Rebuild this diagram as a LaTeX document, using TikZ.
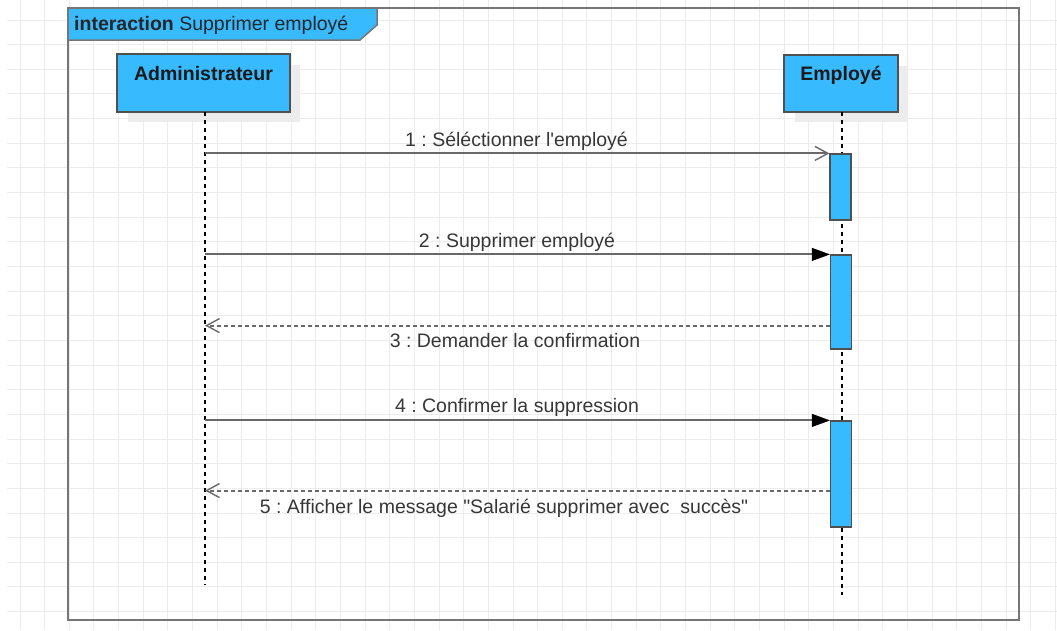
\documentclass[tikz,border=0pt]{standalone}
\usepackage{fontspec}
\setmainfont{Liberation Sans}[Ligatures=TeXOff]
\frenchspacing
\usetikzlibrary{arrows.meta,calc}
\definecolor{umlblue}{RGB}{56,186,255}
\definecolor{gridgray}{RGB}{236,236,236}
\definecolor{framegray}{RGB}{118,118,118}
\definecolor{msggray}{RGB}{105,105,105}
\definecolor{boxborder}{RGB}{80,80,80}
\definecolor{shadowgray}{RGB}{236,236,236}
\definecolor{labelgray}{RGB}{55,55,55}
\tikzset{
  gridline/.style={draw=gridgray, line width=1pt},
  framebox/.style={draw=framegray, line width=2pt},
  actorbox/.style={rectangle, draw=boxborder, fill=umlblue, line width=1.2pt, inner sep=0pt},
  actorshadow/.style={fill=shadowgray, draw=none},
  activation/.style={rectangle, draw=boxborder, fill=umlblue, line width=1.2pt, inner sep=0pt, minimum width=21pt},
  lifeline/.style={draw=black, line width=1.5pt, dash pattern=on 4pt off 4pt},
  callmsg/.style={draw=msggray, line width=2pt, -{Triangle[length=18pt,width=13pt,color=black,line width=0.5pt]}},
  openmsg/.style={draw=msggray, line width=2pt, -{Straight Barb[length=13pt,width=14pt,line width=1.4pt]}},
  replymsg/.style={draw=msggray, line width=2pt, dash pattern=on 4pt off 3pt, -{Straight Barb[length=13pt,width=14pt,line width=1.4pt,sep=0pt]}},
  msglabel/.style={anchor=base, inner sep=0pt, text=labelgray, font=\fontsize{19.5}{23}\selectfont},
  actorname/.style={anchor=base, inner sep=0pt, text=black!90, font=\fontsize{19.5}{23}\selectfont\bfseries},
}
\begin{document}
\begin{tikzpicture}[x=1pt, y=-1pt]
  \useasboundingbox (0,0) rectangle (1057,630);
  \fill[white] (0,0) rectangle (1057,630);

  % background grid
  \foreach \i in {0,...,42} {
    \draw[gridline] ({20+24.65*\i},0) -- ({20+24.65*\i},630);
  }
  \foreach \j in {0,...,24} {
    \draw[gridline] (7,{20+24.65*\j}) -- (1057,{20+24.65*\j});
  }

  % interaction frame and its tab
  \draw[framebox] (68,8) rectangle (1019,620);
  \filldraw[fill=umlblue, draw=framegray, line width=1.5pt]
    (68,8) -- (377,8) -- (377,25) -- (360,40) -- (68,40) -- cycle;
  \node[anchor=base west, inner sep=0pt, text=black!85, font=\fontsize{19.5}{23}\selectfont] (title) at (74,30)
    {\textbf{interaction} Supprimer employé};

  % shadows of the lifeline heads
  \fill[actorshadow] (128,65) rectangle (300,122);
  \fill[actorshadow] (795,66) rectangle (908,122);

  % lifeline heads
  \node[actorbox, minimum width=173pt, minimum height=58pt] (admin) at (203.5,83) {};
  \node[actorname] (adminname) at ($(admin.north)+(0,27)$) {Administrateur};
  \node[actorbox, minimum width=114pt, minimum height=57pt] (emp) at (841,83.5) {};
  \node[actorname] (empname) at ($(emp.north)+(0,26)$) {Employé};

  % lifelines
  \coordinate (aTop) at (205,112);
  \coordinate (aBot) at (205,585);
  \coordinate (eTop) at (842,112);
  \coordinate (eBot) at (842,595);
  \draw[lifeline] (aTop) -- (aBot);
  \draw[lifeline] (eTop) -- (eBot);

  % activation bars
  \node[activation, minimum height=66pt] (act1) at (840.5,187) {};
  \node[activation, minimum height=94pt] (act2) at (841,302) {};
  \node[activation, minimum height=106pt] (act3) at (841,474) {};

  % reply anchors on the activation bars
  \coordinate (r3) at ($(act2.south west)+(0,-24)$);
  \coordinate (r5) at ($(act3.south west)+(0,-37)$);

  % messages
  \draw[openmsg] (act1.north west -| aTop) -- (act1.north west);
  \node[msglabel] (m1) at (516.5,146) {1 : Séléctionner l'employé};

  \draw[callmsg] (act2.north west -| aTop) -- (act2.north west);
  \node[msglabel] (m2) at (517,247) {2 : Supprimer employé};

  \draw[replymsg] (r3) -- (r3 -| aTop);
  \node[msglabel] (m3) at (515,347) {3 : Demander la confirmation};

  \draw[callmsg] (act3.north west -| aTop) -- (act3.north west);
  \node[msglabel] (m4) at (517,412) {4 : Confirmer la suppression};

  \draw[replymsg] (r5) -- (r5 -| aTop);
  \node[msglabel] (m5) at (504,513) {5 : Afficher le message "Salarié supprimer avec~ succès"};
\end{tikzpicture}
\end{document}
